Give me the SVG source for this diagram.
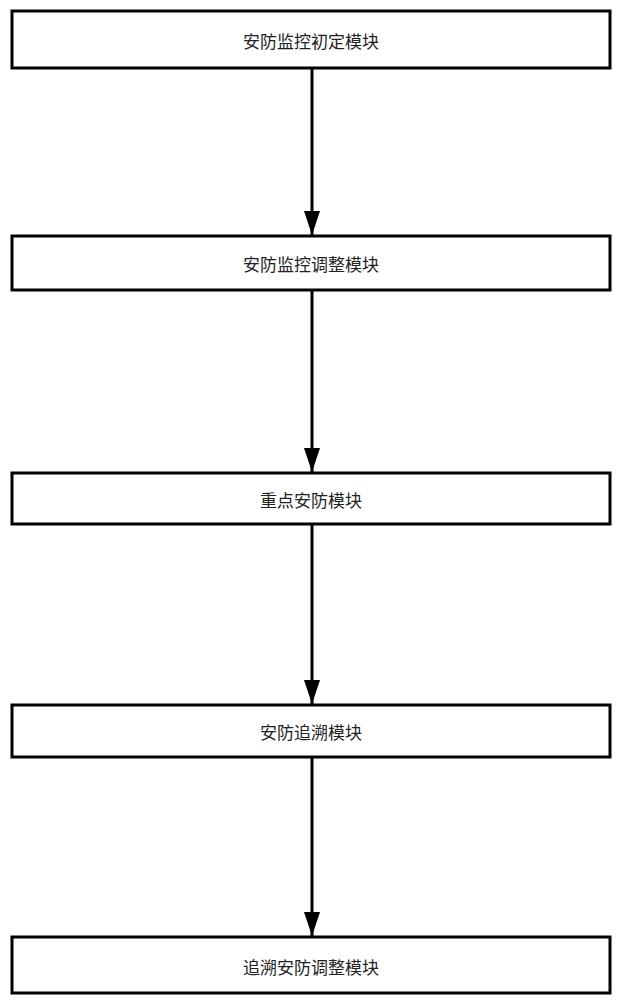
<svg xmlns="http://www.w3.org/2000/svg" width="621" height="1000" viewBox="0 0 621 1000">
<style>
.b{fill:#fff;stroke:#000;stroke-width:3}
.t{font-family:"Noto Sans CJK SC",sans-serif;font-size:17px;text-anchor:middle;dominant-baseline:central;fill:#222}
.c{stroke:#000;stroke-width:3;fill:none;marker-end:url(#a)}
</style>
<defs><marker id="a" markerUnits="userSpaceOnUse" markerWidth="24" markerHeight="16" refX="24" refY="8" orient="auto" viewBox="0 0 24 16"><path d="M0,0 L24,8 L0,16 Z" fill="#000"/></marker></defs>
<rect width="621" height="1000" fill="#fff"/>
<g id="connectors">
<line class="c" x1="312" y1="68" x2="312" y2="235"/>
<line class="c" x1="312" y1="290" x2="312" y2="472"/>
<line class="c" x1="312" y1="524" x2="312" y2="704"/>
<line class="c" x1="312" y1="757" x2="312" y2="936"/>
</g>
<g id="n1"><rect class="b" x="12" y="11" width="598" height="57"/><text class="t" x="311" y="40">安防监控初定模块</text></g>
<g id="n2"><rect class="b" x="12" y="236" width="598" height="54"/><text class="t" x="311" y="263">安防监控调整模块</text></g>
<g id="n3"><rect class="b" x="12" y="473" width="598" height="51"/><text class="t" x="311" y="499">重点安防模块</text></g>
<g id="n4"><rect class="b" x="12" y="705" width="598" height="52"/><text class="t" x="311" y="731">安防追溯模块</text></g>
<g id="n5"><rect class="b" x="12" y="937" width="598" height="56"/><text class="t" x="311" y="966">追溯安防调整模块</text></g>
</svg>
